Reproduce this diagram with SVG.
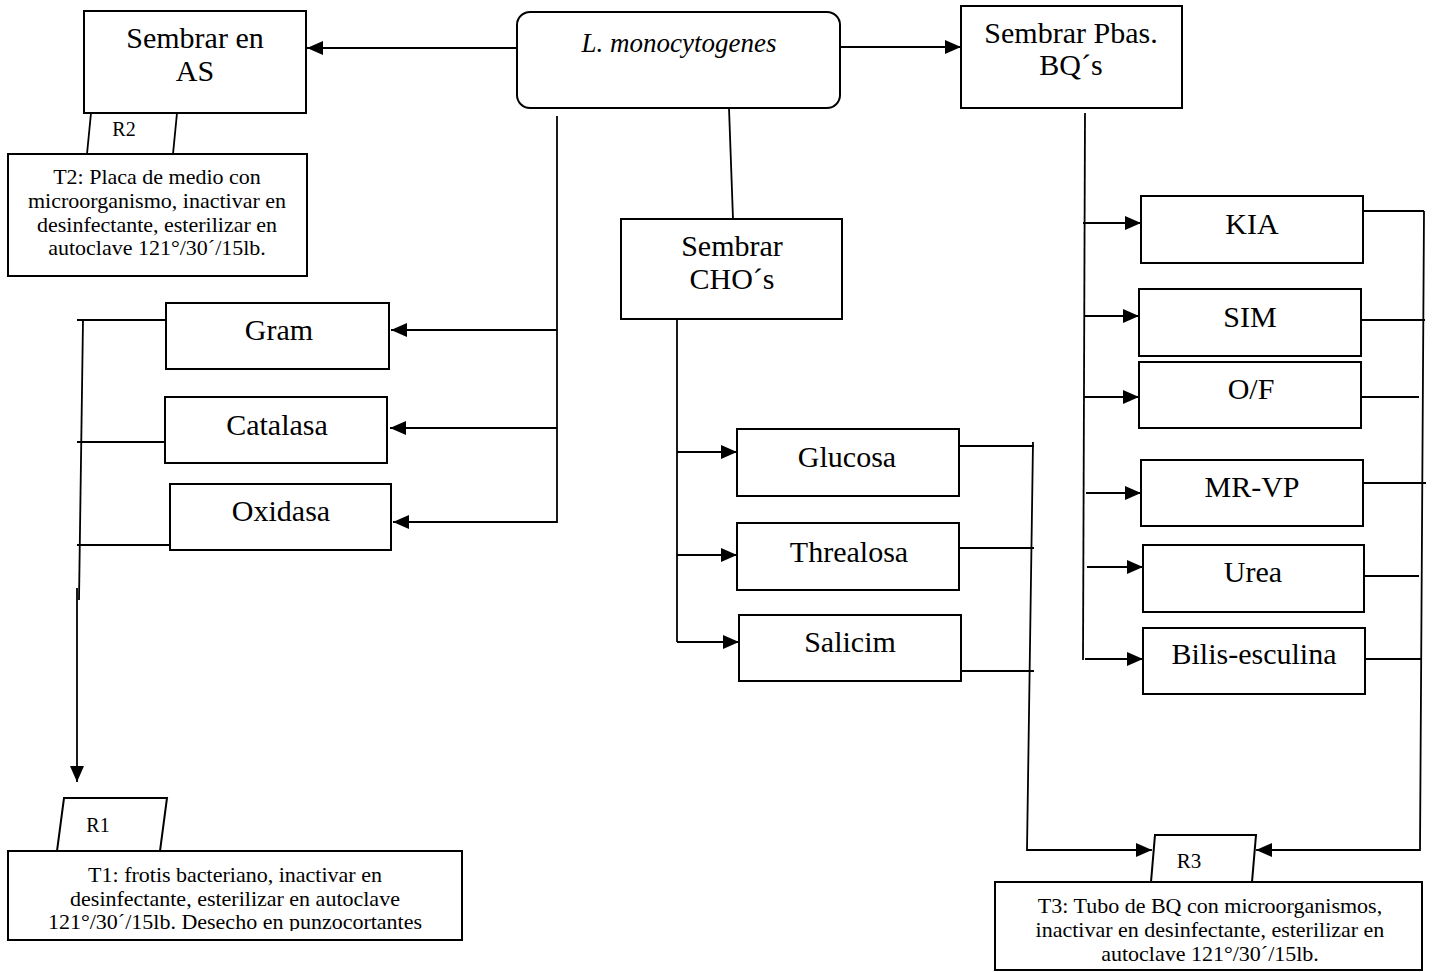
<svg xmlns="http://www.w3.org/2000/svg" width="1433" height="972" viewBox="0 0 1433 972">
  <style>
    .box { fill: #fff; stroke: #000; stroke-width: 2; }
    .ln { fill: none; stroke: #000; stroke-width: 1.8; }
    .arr { fill: none; stroke: #000; stroke-width: 1.8; marker-end: url(#ah); }
    .big { font-family: "Liberation Serif", "Times New Roman", serif; font-size: 30px; text-anchor: middle; fill: #000; }
    .ital { font-family: "Liberation Serif", "Times New Roman", serif; font-size: 27px; font-style: italic; text-anchor: middle; fill: #000; }
    .small { font-family: "Liberation Serif", "Times New Roman", serif; font-size: 22px; text-anchor: middle; fill: #000; }
    .tag { font-family: "Liberation Serif", "Times New Roman", serif; font-size: 20px; text-anchor: middle; fill: #000; }
  </style>
  <defs>
    <marker id="ah" markerUnits="userSpaceOnUse" markerWidth="16" markerHeight="14" refX="16" refY="7" orient="auto">
      <path d="M0,0 L16,7 L0,14 z" fill="#000"/>
    </marker>
    <clipPath id="t1clip">
      <rect x="8" y="851" width="454" height="80"/>
    </clipPath>
  </defs>

  <rect width="1433" height="972" fill="#fff"/>

  <!-- connectors -->
  <g id="connectors">
    <!-- top row -->
    <line class="arr" x1="517" y1="48" x2="307" y2="48"/>
    <line class="arr" x1="840" y1="47" x2="961" y2="47"/>
    <line class="ln" x1="729" y1="108" x2="733" y2="219"/>

    <!-- staining / enzyme tests -->
    <line class="ln" x1="557" y1="116" x2="557" y2="523"/>
    <line class="arr" x1="557" y1="330" x2="391" y2="330"/>
    <line class="arr" x1="557" y1="428" x2="390" y2="428"/>
    <line class="arr" x1="557" y1="522" x2="393" y2="522"/>

    <!-- collection to R1 -->
    <line class="ln" x1="166" y1="320" x2="77" y2="320"/>
    <line class="ln" x1="165" y1="442" x2="77" y2="442"/>
    <line class="ln" x1="170" y1="545" x2="77" y2="545"/>
    <line class="ln" x1="83" y1="320" x2="79" y2="600"/>
    <line class="arr" x1="77" y1="588" x2="77" y2="782"/>

    <!-- carbohydrates -->
    <line class="ln" x1="677" y1="320" x2="677" y2="642"/>
    <line class="arr" x1="677" y1="452" x2="737" y2="452"/>
    <line class="arr" x1="677" y1="555" x2="737" y2="555"/>
    <line class="arr" x1="677" y1="642" x2="739" y2="642"/>
    <line class="ln" x1="959" y1="446" x2="1034" y2="446"/>
    <line class="ln" x1="959" y1="548" x2="1034" y2="548"/>
    <line class="ln" x1="961" y1="671" x2="1034" y2="671"/>
    <polyline class="ln" points="1033,442 1027,850 1136,850"/>
    <line class="arr" x1="1130" y1="850" x2="1152" y2="850"/>

    <!-- biochemical tests -->
    <line class="ln" x1="1085" y1="113" x2="1083" y2="660"/>
    <line class="arr" x1="1083" y1="223" x2="1141" y2="223"/>
    <line class="arr" x1="1084" y1="316" x2="1139" y2="316"/>
    <line class="arr" x1="1084" y1="397" x2="1139" y2="397"/>
    <line class="arr" x1="1086" y1="493" x2="1141" y2="493"/>
    <line class="arr" x1="1087" y1="567" x2="1143" y2="567"/>
    <line class="arr" x1="1085" y1="659" x2="1143" y2="659"/>
    <line class="ln" x1="1363" y1="211" x2="1424" y2="211"/>
    <line class="ln" x1="1361" y1="320" x2="1425" y2="320"/>
    <line class="ln" x1="1361" y1="397" x2="1419" y2="397"/>
    <line class="ln" x1="1363" y1="483" x2="1426" y2="483"/>
    <line class="ln" x1="1364" y1="576" x2="1419" y2="576"/>
    <line class="ln" x1="1366" y1="659" x2="1422" y2="659"/>
    <polyline class="ln" points="1424,211 1420,850 1270,850"/>
    <line class="arr" x1="1280" y1="850" x2="1256" y2="850"/>
  </g>

  <!-- root organism -->
  <g id="n-listeria">
    <rect class="box" x="517" y="12" width="323" height="96" rx="13" ry="13"/>
    <text class="ital" x="679" y="52">L. monocytogenes</text>
  </g>

  <g id="n-as">
    <rect class="box" x="84" y="11" width="222" height="102"/>
    <text class="big" x="195" y="48">Sembrar en</text>
    <text class="big" x="195" y="81">AS</text>
  </g>

  <g id="n-r2">
    <line class="ln" x1="91" y1="113" x2="87" y2="154"/>
    <line class="ln" x1="177" y1="113" x2="173" y2="154"/>
    <text class="tag" x="124" y="136">R2</text>
  </g>

  <g id="n-t2">
    <rect class="box" x="8" y="154" width="299" height="122"/>
    <text class="small" x="157" y="184">T2: Placa de medio con</text>
    <text class="small" x="157" y="208">microorganismo, inactivar en</text>
    <text class="small" x="157" y="232">desinfectante, esterilizar en</text>
    <text class="small" x="157" y="255">autoclave 121°/30´/15lb.</text>
  </g>

  <g id="n-pbas">
    <rect class="box" x="961" y="6" width="221" height="102"/>
    <text class="big" x="1071" y="43">Sembrar Pbas.</text>
    <text class="big" x="1071" y="75">BQ´s</text>
  </g>

  <g id="n-cho">
    <rect class="box" x="621" y="219" width="221" height="100"/>
    <text class="big" x="732" y="256">Sembrar</text>
    <text class="big" x="732" y="289">CHO´s</text>
  </g>

  <g id="n-gram">
    <rect class="box" x="166" y="303" width="223" height="66"/>
    <text class="big" x="279" y="340">Gram</text>
  </g>
  <g id="n-catalasa">
    <rect class="box" x="165" y="397" width="222" height="66"/>
    <text class="big" x="277" y="435">Catalasa</text>
  </g>
  <g id="n-oxidasa">
    <rect class="box" x="170" y="484" width="221" height="66"/>
    <text class="big" x="281" y="521">Oxidasa</text>
  </g>

  <g id="n-glucosa">
    <rect class="box" x="737" y="429" width="222" height="67"/>
    <text class="big" x="847" y="467">Glucosa</text>
  </g>
  <g id="n-threalosa">
    <rect class="box" x="737" y="523" width="222" height="67"/>
    <text class="big" x="849" y="562">Threalosa</text>
  </g>
  <g id="n-salicim">
    <rect class="box" x="739" y="615" width="222" height="66"/>
    <text class="big" x="850" y="652">Salicim</text>
  </g>

  <g id="n-kia">
    <rect class="box" x="1141" y="196" width="222" height="67"/>
    <text class="big" x="1252" y="234">KIA</text>
  </g>
  <g id="n-sim">
    <rect class="box" x="1139" y="289" width="222" height="67"/>
    <text class="big" x="1250" y="327">SIM</text>
  </g>
  <g id="n-of">
    <rect class="box" x="1139" y="362" width="222" height="66"/>
    <text class="big" x="1251" y="399">O/F</text>
  </g>
  <g id="n-mrvp">
    <rect class="box" x="1141" y="460" width="222" height="66"/>
    <text class="big" x="1252" y="497">MR-VP</text>
  </g>
  <g id="n-urea">
    <rect class="box" x="1143" y="545" width="221" height="67"/>
    <text class="big" x="1253" y="582">Urea</text>
  </g>
  <g id="n-bilis">
    <rect class="box" x="1143" y="628" width="222" height="66"/>
    <text class="big" x="1254" y="664">Bilis-esculina</text>
  </g>

  <g id="n-r1">
    <polygon class="box" points="64,798 167,798 160,851 57,851"/>
    <text class="tag" x="98" y="832">R1</text>
  </g>
  <g id="n-t1">
    <rect class="box" x="8" y="851" width="454" height="89"/>
    <g clip-path="url(#t1clip)">
      <text class="small" x="235" y="882">T1: frotis bacteriano, inactivar en</text>
      <text class="small" x="235" y="906">desinfectante, esterilizar en autoclave</text>
      <text class="small" x="235" y="929">121°/30´/15lb. Desecho en punzocortantes</text>
    </g>
  </g>

  <g id="n-r3">
    <polygon class="box" points="1155,835 1256,835 1252,882 1151,882"/>
    <text class="tag" x="1189" y="868" style="font-size:21px">R3</text>
  </g>
  <g id="n-t3">
    <rect class="box" x="995" y="882" width="427" height="88"/>
    <text class="small" x="1210" y="913">T3: Tubo de BQ con microorganismos,</text>
    <text class="small" x="1210" y="937">inactivar en desinfectante, esterilizar en</text>
    <text class="small" x="1210" y="961">autoclave 121°/30´/15lb.</text>
  </g>
</svg>
